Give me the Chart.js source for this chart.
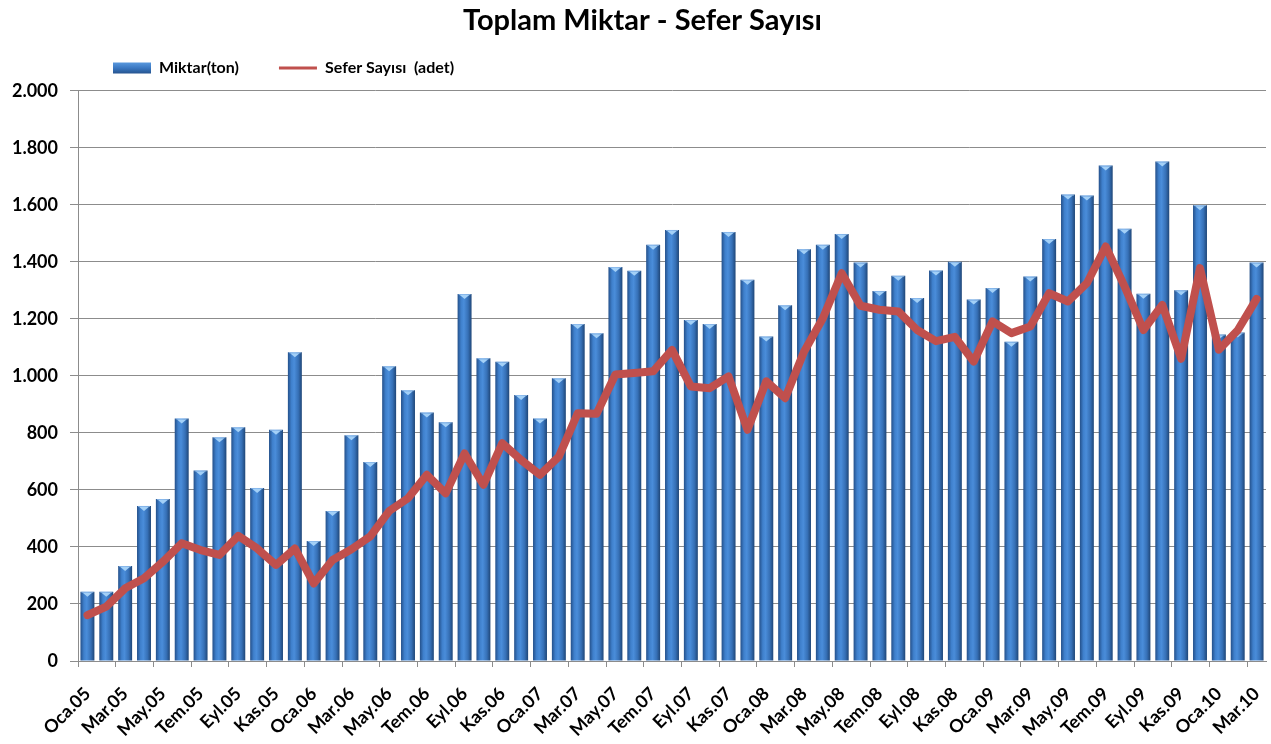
<!DOCTYPE html>
<html lang="tr">
<head>
<meta charset="utf-8">
<title>Toplam Miktar - Sefer Sayısı</title>
<script src="https://cdn.jsdelivr.net/npm/chart.js@4.4.1/dist/chart.umd.min.js"></script>
<style>
  html, body { margin: 0; padding: 0; background: #fff; }
  #wrap { width: 1271px; height: 744px; }
</style>
</head>
<body>
<div id="wrap"><canvas id="chart" width="1271" height="744"></canvas></div>
<script>
const labels = [
  'Oca.05', 'Şub.05', 'Mar.05', 'Nis.05', 'May.05', 'Haz.05', 'Tem.05', 'Ağu.05', 'Eyl.05', 'Eki.05', 'Kas.05', 'Ara.05',
  'Oca.06', 'Şub.06', 'Mar.06', 'Nis.06', 'May.06', 'Haz.06', 'Tem.06', 'Ağu.06', 'Eyl.06', 'Eki.06', 'Kas.06', 'Ara.06',
  'Oca.07', 'Şub.07', 'Mar.07', 'Nis.07', 'May.07', 'Haz.07', 'Tem.07', 'Ağu.07', 'Eyl.07', 'Eki.07', 'Kas.07', 'Ara.07',
  'Oca.08', 'Şub.08', 'Mar.08', 'Nis.08', 'May.08', 'Haz.08', 'Tem.08', 'Ağu.08', 'Eyl.08', 'Eki.08', 'Kas.08', 'Ara.08',
  'Oca.09', 'Şub.09', 'Mar.09', 'Nis.09', 'May.09', 'Haz.09', 'Tem.09', 'Ağu.09', 'Eyl.09', 'Eki.09', 'Kas.09', 'Ara.09',
  'Oca.10', 'Şub.10', 'Mar.10',
];

// Miktar (ton)
const miktar = [
  243, 243, 333, 544, 568, 851, 668, 785, 820, 607, 811, 1083,
  421, 526, 792, 698, 1034, 950, 872, 837, 1287, 1062, 1050, 933,
  851, 992, 1182, 1150, 1382, 1369, 1460, 1512, 1196, 1182, 1505, 1337,
  1138, 1248, 1444, 1460, 1498, 1398, 1298, 1351, 1273, 1370, 1400, 1268,
  1308, 1120, 1349, 1480, 1636, 1633, 1738, 1516, 1288, 1752, 1300, 1599,
  1145, 1152, 1398,
];

// Sefer Sayısı (adet)
const sefer = [
  161, 191, 255, 290, 348, 413, 389, 372, 439, 395, 337, 395,
  272, 354, 392, 437, 526, 571, 653, 588, 728, 618, 764, 705,
  653, 717, 869, 867, 1005, 1010, 1016, 1091, 963, 957, 998, 811,
  981, 922, 1085, 1202, 1360, 1246, 1232, 1226, 1161, 1122, 1137, 1050,
  1191, 1150, 1173, 1290, 1261, 1325, 1454, 1314, 1161, 1249, 1060, 1378,
  1092, 1160, 1270,
];

const yTicks = [0, 200, 400, 600, 800, 1000, 1200, 1400, 1600, 1800, 2000];

const FONT = 'Lato, "Liberation Sans", Arial, sans-serif';
const GRID = '#8c8c8c';
const RED = '#C0504D';
const BAR_PCT = 0.74;

function fmtTr(v) {
  return String(v).replace(/\B(?=(\d{3})+(?!\d))/g, '.');
}

function barGradient(c) {
  const chart = c.chart;
  const xs = chart.scales.x;
  if (!xs || c.dataIndex === undefined) return '#3A75BD';
  const cx = xs.getPixelForValue(c.dataIndex);
  const half = (xs.width / labels.length) * BAR_PCT / 2;
  if (!Number.isFinite(cx) || !Number.isFinite(half) || half <= 0) return '#3A75BD';
  const g = chart.ctx.createLinearGradient(cx - half, 0, cx + half, 0);
  g.addColorStop(0, '#24508a');
  g.addColorStop(0.25, '#3f80cc');
  g.addColorStop(0.45, '#4a8dda');
  g.addColorStop(0.75, '#3670b6');
  g.addColorStop(1, '#1f4677');
  return g;
}

// light cap on top of every bar, like the excel bevel
const barCaps = {
  id: 'barCaps',
  afterDatasetDraw(chart, args) {
    if (args.index !== 0) return;
    const ctx = chart.ctx;
    ctx.save();
    args.meta.data.forEach((bar) => {
      const w = bar.width;
      ctx.fillStyle = '#a3d0f7';
      ctx.beginPath();
      ctx.moveTo(bar.x - w * 0.34, bar.y + 1);
      ctx.lineTo(bar.x + w * 0.34, bar.y + 1);
      ctx.lineTo(bar.x, bar.y + 5);
      ctx.closePath();
      ctx.fill();
      ctx.fillStyle = 'rgba(170,210,250,0.7)';
      ctx.fillRect(bar.x - w / 2 + 1, bar.y, w - 2, 1);
    });
    ctx.restore();
  },
};

// put legend and title where the excel chart had them
const placeBoxes = {
  id: 'placeBoxes',
  beforeDraw(chart) {
    if (chart.legend) {
      chart.legend.left = 73;
      chart.legend.top = 20;
    }
    if (chart.titleBlock) {
      chart.titleBlock.left = 19;
    }
  },
};

new Chart(document.getElementById('chart'), {
  data: {
    labels,
    datasets: [
      {
        type: 'bar',
        label: 'Miktar(ton)',
        data: miktar,
        backgroundColor: barGradient,
        borderWidth: 0,
        categoryPercentage: 1,
        barPercentage: BAR_PCT,
        order: 1,
      },
      {
        type: 'line',
        label: 'Sefer Sayısı  (adet)',
        data: sefer,
        borderColor: RED,
        backgroundColor: RED,
        borderWidth: 8,
        pointRadius: 0,
        tension: 0,
        borderJoinStyle: 'round',
        borderCapStyle: 'round',
        order: 0,
      },
    ],
  },
  options: {
    responsive: false,
    animation: false,
    layout: { padding: { top: 0, right: 5, bottom: 0, left: 0 } },
    plugins: {
      title: {
        display: true,
        text: 'Toplam Miktar - Sefer Sayısı',
        color: '#000',
        font: { family: FONT, size: 29, weight: 'bold', lineHeight: 1.2 },
        padding: { top: 3, bottom: 0 },
      },
      legend: {
        position: 'top',
        align: 'start',
        maxHeight: 53,
        labels: {
          color: '#000',
          font: { family: FONT, size: 16, weight: 'bold' },
          usePointStyle: true,
          pointStyleWidth: 38,
          boxHeight: 11,
          padding: 40,
          sort: (a, b) => a.datasetIndex - b.datasetIndex,
          generateLabels(chart) {
            const items = Chart.defaults.plugins.legend.labels.generateLabels(chart);
            items.forEach((it) => {
              if (it.datasetIndex === 0) {
                const g = chart.ctx.createLinearGradient(0, 62, 0, 74);
                g.addColorStop(0, '#5b9be0');
                g.addColorStop(0.5, '#3a78c2');
                g.addColorStop(1, '#24508a');
                it.pointStyle = 'rect';
                it.fillStyle = g;
                it.lineWidth = 0;
              } else {
                it.pointStyle = 'line';
                it.strokeStyle = RED;
                it.lineWidth = 3;
              }
            });
            return items;
          },
        },
      },
      tooltip: { enabled: false },
    },
    scales: {
      x: {
        offset: true,
        grid: {
          offset: true,
          drawOnChartArea: false,
          drawTicks: true,
          tickLength: 6,
          tickColor: (c) => (c.index % 2 === 0 ? GRID : 'rgba(0,0,0,0)'),
        },
        border: { color: GRID },
        ticks: {
          autoSkip: false,
          minRotation: 45,
          maxRotation: 45,
          padding: 16,
          color: '#000',
          font: { family: FONT, size: 18, weight: 'bold' },
          callback: (v, i) => (i % 2 === 0 ? labels[i] : ''),
        },
        afterFit(scale) {
          scale.height = 83;
          scale.paddingLeft = 0;
          scale.paddingRight = 0;
        },
      },
      y: {
        min: yTicks[0],
        max: yTicks[yTicks.length - 1],
        afterBuildTicks(scale) {
          scale.ticks = yTicks.map((v) => ({ value: v }));
        },
        grid: { color: GRID, tickLength: 8, tickColor: GRID },
        border: { color: GRID },
        ticks: {
          padding: 12,
          color: '#000',
          font: { family: FONT, size: 18, weight: 'bold' },
          callback: (v) => fmtTr(v),
        },
        afterFit(scale) {
          scale.width = 78;
        },
      },
    },
  },
  plugins: [barCaps, placeBoxes],
});
</script>
</body>
</html>
